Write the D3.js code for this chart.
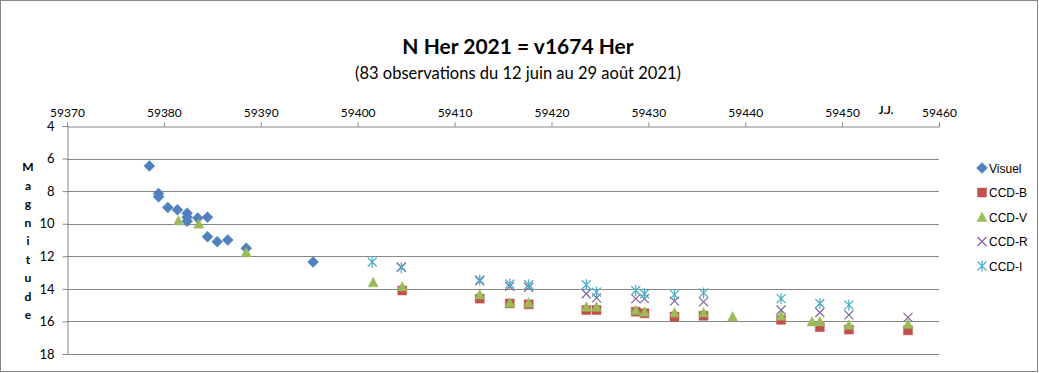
<!DOCTYPE html>
<html>
<head>
<meta charset="utf-8">
<script src="https://cdn.jsdelivr.net/npm/d3@7"></script>
<style>
  body { margin: 0; background: #fff; }
</style>
</head>
<body>
<div id="chart"></div>
<script>
// observations : jour julien (JJ - 2400000) et magnitude
var visuelJD = [59378.5, 59379.45, 59379.45, 59380.4, 59381.4, 59382.4, 59382.4, 59382.4, 59383.5, 59384.5, 59384.5, 59385.5, 59386.6, 59388.5, 59395.4];
var visuelMag = [6.45, 8.15, 8.35, 9.0, 9.15, 9.35, 9.6, 9.85, 9.65, 9.6, 10.8, 11.1, 11.0, 11.5, 12.35];

var ccdBJD = [59404.6, 59412.6, 59415.7, 59417.65, 59423.6, 59424.65, 59428.7, 59429.6, 59432.7, 59435.7, 59443.7, 59447.7, 59450.7, 59456.8];
var ccdBMag = [14.1, 14.6, 14.9, 14.95, 15.3, 15.3, 15.4, 15.5, 15.7, 15.65, 15.9, 16.35, 16.5, 16.55];

var ccdVJD = [59381.5, 59383.6, 59388.5, 59401.6, 59404.6, 59412.6, 59415.7, 59417.65, 59423.6, 59424.65, 59428.7, 59429.6, 59432.7, 59435.7, 59438.7, 59443.7, 59446.9, 59447.7, 59450.7, 59456.8];
var ccdVMag = [9.8, 10.0, 11.75, 13.6, 13.85, 14.35, 14.85, 14.85, 15.1, 15.1, 15.3, 15.4, 15.45, 15.45, 15.7, 15.65, 16.0, 16.0, 16.2, 16.15];

var ccdRJD = [59404.5, 59412.6, 59415.7, 59417.65, 59423.6, 59424.65, 59428.7, 59429.6, 59432.7, 59435.7, 59443.7, 59447.7, 59450.7, 59456.8];
var ccdRMag = [12.65, 13.5, 13.85, 13.9, 14.3, 14.55, 14.6, 14.6, 14.75, 14.8, 15.3, 15.45, 15.6, 15.75];

var ccdIJD = [59401.5, 59404.5, 59412.6, 59415.7, 59417.65, 59423.6, 59424.65, 59428.7, 59429.6, 59432.7, 59435.7, 59443.7, 59447.7, 59450.7];
var ccdIMag = [12.35, 12.7, 13.45, 13.7, 13.75, 13.75, 14.2, 14.1, 14.3, 14.35, 14.25, 14.6, 14.9, 15.0];

var xTicks = [59370, 59380, 59390, 59400, 59410, 59420, 59430, 59440, 59450, 59460];
var yTicks = [4, 6, 8, 10, 12, 14, 16, 18];

var series = [
  { name: 'Visuel', jd: visuelJD, mag: visuelMag, shape: 'diamond', color: '#4f81bd' },
  { name: 'CCD-B', jd: ccdBJD, mag: ccdBMag, shape: 'square', color: '#c0504d' },
  { name: 'CCD-V', jd: ccdVJD, mag: ccdVMag, shape: 'triangle', color: '#9bbb59' },
  { name: 'CCD-R', jd: ccdRJD, mag: ccdRMag, shape: 'cross', color: '#8064a2' },
  { name: 'CCD-I', jd: ccdIJD, mag: ccdIMag, shape: 'star', color: '#4bacc6' }
];

var svg = d3
  .select('#chart')
  .append('svg')
  .attr('width', 1039)
  .attr('height', 373);

var gridColor = '#868686';
var labelFont = 'Lato, "Open Sans", sans-serif';

svg
  .append('rect')
  .attr('x', 0.5)
  .attr('y', 0.5)
  .attr('width', 1037)
  .attr('height', 371)
  .attr('fill', '#fff')
  .attr('stroke', gridColor);

var x = d3.scaleLinear().domain([59370, 59460]).range([67, 939]);
var y = d3.scaleLinear().domain([4, 18]).range([126, 354]);

// titre
svg
  .append('text')
  .attr('x', 518)
  .attr('y', 54)
  .attr('text-anchor', 'middle')
  .style('font', 'bold 21px ' + labelFont)
  .text('N Her 2021 = v1674 Her');

svg
  .append('text')
  .attr('x', 518)
  .attr('y', 79)
  .attr('text-anchor', 'middle')
  .style('font', '16.5px ' + labelFont)
  .text('(83 observations du 12 juin au 29 août 2021)');

// grille horizontale
svg
  .append('g')
  .selectAll('line')
  .data(yTicks.slice(1))
  .enter()
  .append('line')
  .attr('x1', x(59370))
  .attr('x2', x(59460))
  .attr('y1', function (d) { return Math.round(y(d)) + 0.5; })
  .attr('y2', function (d) { return Math.round(y(d)) + 0.5; })
  .attr('stroke', gridColor);

// axe du haut
var xAxis = svg
  .append('g')
  .attr('transform', 'translate(0,' + (Math.round(y(4)) + 0.5) + ')')
  .call(d3.axisTop(x).tickValues(xTicks).tickSize(4).tickPadding(6).tickFormat(d3.format('d')));
xAxis.select('.domain').attr('stroke', gridColor);
xAxis.selectAll('.tick line').attr('stroke', gridColor);
xAxis.selectAll('.tick text').style('font', '12px ' + labelFont).attr('fill', '#000');

svg
  .append('text')
  .attr('x', 886)
  .attr('y', 114)
  .attr('text-anchor', 'middle')
  .style('font', 'bold 11px ' + labelFont)
  .text('J.J.');

// axe de gauche
var yAxis = svg
  .append('g')
  .attr('transform', 'translate(' + (Math.round(x(59370)) + 0.5) + ',0)')
  .call(d3.axisLeft(y).tickValues(yTicks).tickSize(5).tickPadding(8));
yAxis.select('.domain').attr('stroke', gridColor);
yAxis.selectAll('.tick line').attr('stroke', gridColor);
yAxis.selectAll('.tick text').style('font', '13px ' + labelFont).attr('fill', '#000');

var yLetters = 'Magnitude'.split('');
svg
  .append('g')
  .selectAll('text')
  .data(yLetters)
  .enter()
  .append('text')
  .attr('x', 28)
  .attr('y', function (d, i) { return 171 + i * 18.5; })
  .attr('text-anchor', 'middle')
  .style('font', 'bold 12px ' + labelFont)
  .text(function (d) { return d; });

function markerPath(shape) {
  switch (shape) {
    case 'diamond': return 'M0,-5.5L5.5,0L0,5.5L-5.5,0Z';
    case 'square': return 'M-4.5,-4.5H4.5V4.5H-4.5Z';
    case 'triangle': return 'M0,-5L5,4.5H-5Z';
    case 'cross': return 'M-4.5,-4.5L4.5,4.5M4.5,-4.5L-4.5,4.5';
    case 'star': return 'M-4.5,-4.5L4.5,4.5M4.5,-4.5L-4.5,4.5M0,-5.5V5.5';
  }
}

function drawMarker(sel, s) {
  var open = s.shape === 'cross' || s.shape === 'star';
  sel
    .append('path')
    .attr('d', markerPath(s.shape))
    .attr('fill', open ? 'none' : s.color)
    .attr('stroke', s.color)
    .attr('stroke-width', open ? 1.2 : 0.8)
    .attr('stroke-opacity', open ? 1 : 0.6);
}

series.forEach(function (s) {
  var pts = s.jd.map(function (d, i) { return { jd: d, mag: s.mag[i] }; });
  svg
    .append('g')
    .selectAll('g')
    .data(pts)
    .enter()
    .append('g')
    .attr('transform', function (d) { return 'translate(' + x(d.jd) + ',' + y(d.mag) + ')'; })
    .each(function () { drawMarker(d3.select(this), s); });
});

// légende
var legend = svg.append('g').attr('transform', 'translate(982,168)');
series.forEach(function (s, i) {
  var row = legend.append('g').attr('transform', 'translate(0,' + i * 24.5 + ')');
  drawMarker(row, s);
  row
    .append('text')
    .attr('x', 7)
    .attr('y', 4.5)
    .style('font', '12px "Liberation Sans", Arial, sans-serif')
    .text(s.name);
});
</script>
</body>
</html>
